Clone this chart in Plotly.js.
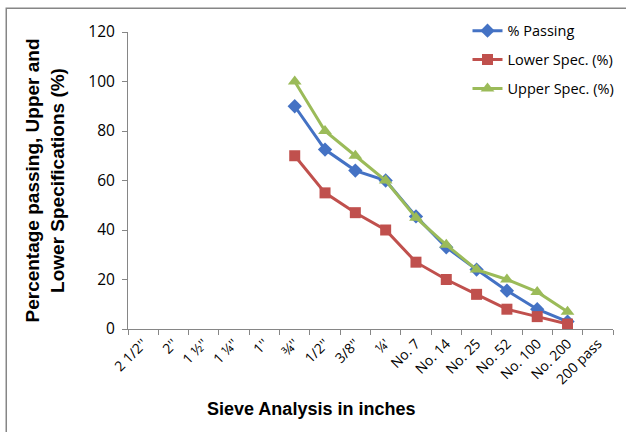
<!DOCTYPE html>
<html>
<head>
<meta charset="utf-8">
<script src="https://cdn.plot.ly/plotly-3.0.1.min.js"></script>
<style>html,body{margin:0;padding:0;background:#fff;}#chart{width:626px;height:432px;}</style>
</head>
<body>
<div id="chart"></div>
<script>
const sieveLabels = ["2 1/2''", "2''", "1 ½''", "1 ¼''", "1''", "¾''", "1/2''", "3/8''", "¼'", "No. 7", "No. 14", "No. 25", "No. 52", "No. 100", "No. 200", "200 pass"];
const dataSieves = ["¾''", "1/2''", "3/8''", "¼'", "No. 7", "No. 14", "No. 25", "No. 52", "No. 100", "No. 200"];
const percentPassing = [90, 72.5, 64, 60, 45.5, 33, 24, 15.5, 8, 3];
const lowerSpec = [70, 55, 47, 40, 27, 20, 14, 8, 5, 2];
const upperSpec = [100, 80, 70, 60, 45, 34, 24, 20, 15, 7];

const traces = [
  {x: dataSieves, y: percentPassing, name: "% Passing", type: "scatter", mode: "lines+markers",
   line: {color: "#4472C4", width: 3}, marker: {symbol: "diamond", size: 11, color: "#4472C4"}, legendgroup: "a"},
  {x: dataSieves, y: lowerSpec, name: "Lower Spec. (%)", type: "scatter", mode: "lines+markers",
   line: {color: "#C0504D", width: 3}, marker: {symbol: "square", size: 11, color: "#C0504D"}, legendgroup: "b"},
  {x: dataSieves, y: upperSpec, name: "Upper Spec. (%)", type: "scatter", mode: "lines+markers",
   line: {color: "#9BBB59", width: 3}, marker: {symbol: "triangle-up", size: 12, color: "#9BBB59"}, legendgroup: "c"}
];

const layout = {
  width: 626, height: 432,
  margin: {l: 128, r: 13, t: 32, b: 103, autoexpand: false},
  paper_bgcolor: "#fff", plot_bgcolor: "#fff",
  font: {family: "Liberation Sans, Arial, sans-serif", color: "#000"},
  showlegend: true,
  legend: {x: 0.70, y: 1.058, xanchor: "left", yanchor: "top", font: {size: 14.5, family: "Open Sans, sans-serif"},
           tracegroupgap: 7, bgcolor: "rgba(0,0,0,0)"},
  xaxis: {
    type: "category", categoryorder: "array", categoryarray: sieveLabels, automargin: false,
    range: [-0.5, 15.5], tickson: "boundaries", ticks: "outside", ticklen: 5, tickcolor: "#868686",
    showline: true, linecolor: "#868686", linewidth: 1, showgrid: false, zeroline: false,
    tickangle: -45, tickfont: {size: 14, family: "Open Sans, sans-serif"}
  },
  yaxis: {
    range: [0, 120], dtick: 20, ticks: "outside", ticklen: 5, tickcolor: "#868686", automargin: false,
    showline: true, linecolor: "#868686", linewidth: 1, showgrid: false, zeroline: false,
    tickfont: {size: 15.5, family: "Open Sans, sans-serif"}, ticklabelstandoff: 4,
    title: {text: "<b>Percentage passing, Upper and<br>Lower Specifications (%)</b>", font: {size: 19, family: "Liberation Sans, Arial, sans-serif"}, standoff: 18}
  },
  annotations: [
    {text: "<b>Sieve Analysis in inches</b>", xref: "paper", yref: "paper", x: 0.377, y: -0.27,
     xanchor: "center", yanchor: "middle", showarrow: false, font: {size: 18, family: "Liberation Sans, Arial, sans-serif"}}
  ],
  shapes: [
    {type: "rect", xref: "paper", yref: "paper", x0: -0.251, x1: 1.1, y0: -0.5, y1: 1.08,
     line: {color: "#868686", width: 1.5}, fillcolor: "rgba(0,0,0,0)"}
  ]
};

Plotly.newPlot("chart", traces, layout, {displayModeBar: false, staticPlot: true});
</script>
</body>
</html>
